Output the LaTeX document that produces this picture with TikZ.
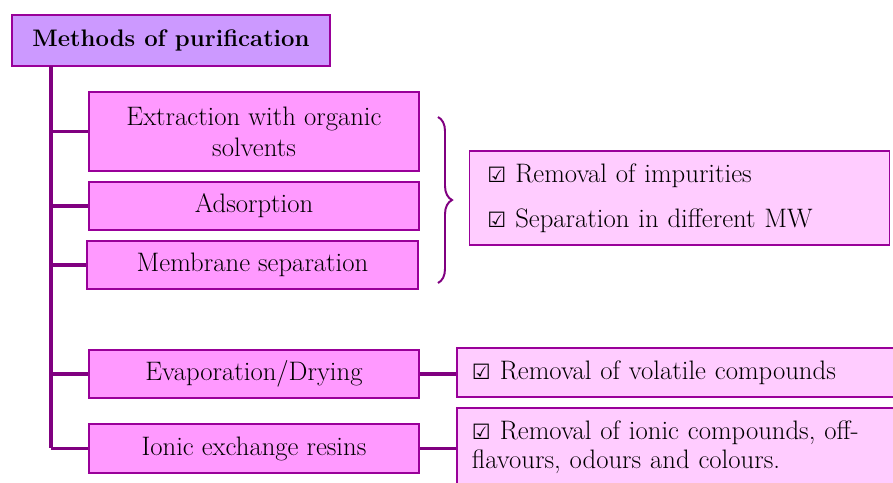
\documentclass[tikz,border=0pt]{standalone}
\usepackage{fontspec}
\newfontfamily\dejavu{DejaVu Sans}
\usepackage{tikz}
\usetikzlibrary{calc,positioning,decorations.pathreplacing}
\definecolor{titlefill}{HTML}{CC99FF}
\definecolor{boxfill}{HTML}{FF99FF}
\definecolor{resfill}{HTML}{FFCCFF}
\definecolor{plum}{HTML}{800080}
\definecolor{boxline}{HTML}{990099}
\newcommand{\chkbox}{{\dejavu\fontsize{15}{15}\selectfont ☑}}
\tikzset{
  methodbox/.style={draw=boxline, fill=boxfill, line width=1.4pt, minimum width=8.25cm, minimum height=1.2cm, align=center, font=\fontsize{19}{22}\selectfont},
  resultbox/.style={draw=boxline, fill=resfill, line width=1pt, minimum width=10.95cm, align=left, inner xsep=0.35cm, text width=10.2cm, font=\fontsize{19}{21}\selectfont},
  branch/.style={plum, line width=2.4pt}
}
\begin{document}
\begin{tikzpicture}[x=0.025cm, y=-0.025cm]
			\useasboundingbox (0,0) rectangle (893,482);
			\clip (0,0) rectangle (893,482);
			% title
			\node[draw=boxline, fill=titlefill, line width=1.6pt, minimum width=7.95cm, minimum height=1.275cm, font=\fontsize{17}{20}\selectfont\bfseries] (title) at (171,40.5) {Methods of purification};
			% methods
			\node[methodbox, minimum height=1.975cm] (extract) at (254,131.5) {Extraction with organic\\solvents};
			\node[methodbox] (adsorb) at (254,206) {Adsorption};
			\node[methodbox] (membrane) at (252.5,265) {Membrane separation};
			\node[methodbox] (evap) at (254,374) {Evaporation/Drying};
			\node[methodbox, minimum height=1.225cm] (ionic) at (254,448.5) {Ionic exchange resins};
			% results
			\node[resultbox, minimum width=10.475cm, text width=9.6cm, inner xsep=0.45cm, minimum height=2.35cm, font=\fontsize{19}{32}\selectfont] (impure) at (679.5,198) {\chkbox{} Removal of impurities\\\chkbox{} Separation in different MW};
			\node[resultbox, minimum height=1.225cm] (volatile) at (676,372.5) {\chkbox{} Removal of volatile compounds};
			\node[resultbox, minimum height=1.95cm] (ioncomp) at (676,447) {\chkbox{} Removal of ionic compounds, off-\\flavours, odours and colours.};
			% trunk and branches
			\coordinate (trunktop) at (51,66);
			\coordinate (trunkend) at (51,448);
			\draw[branch] (trunktop) -- (trunkend);
			\foreach \m in {extract,adsorb,membrane,evap,ionic}
				\draw[branch] (\m.west -| trunktop) -- (\m.west);
			\draw[branch] (evap.east) -- (evap.east -| volatile.west);
			\draw[branch] (ionic.east) -- (ionic.east -| ioncomp.west);
			% brace
			\coordinate (bracetop) at (438,117);
			\coordinate (bracebot) at (438,283);
			\draw[plum, line width=1.4pt, decorate, decoration={brace, amplitude=0.35cm}] (bracetop) -- (bracebot);
	\end{tikzpicture}
\end{document}
